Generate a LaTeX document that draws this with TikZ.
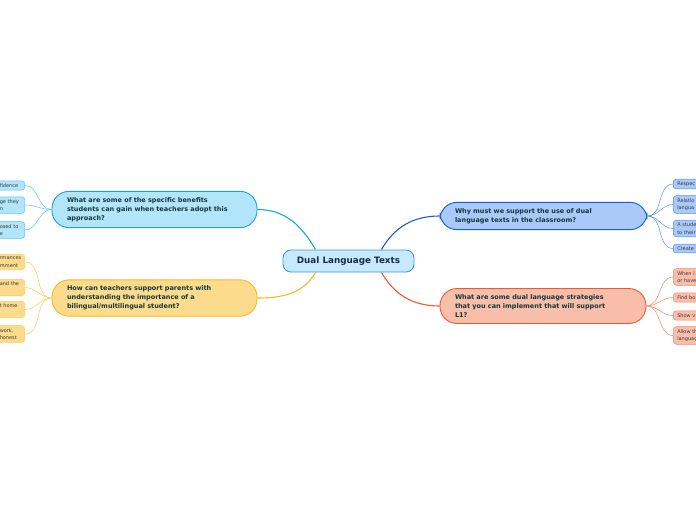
\documentclass[tikz,border=0pt]{standalone}
\usepackage{fontspec}
\setmainfont{DejaVu Sans}
\usetikzlibrary{calc}

\definecolor{rootfill}{HTML}{C8E9FB}
\definecolor{rootdraw}{HTML}{3C9AD8}
\definecolor{roottext}{HTML}{162B4D}
\definecolor{topictext}{HTML}{12393A}
\definecolor{leaftext}{HTML}{3A3A3A}
\definecolor{cyanfill}{HTML}{B2E4FA}
\definecolor{cyandraw}{HTML}{1DA1E2}
\definecolor{cyanleaf}{HTML}{5CC4F2}
\definecolor{yelfill}{HTML}{FDDB8D}
\definecolor{yeldraw}{HTML}{F8B91E}
\definecolor{yelleaf}{HTML}{FBCB55}
\definecolor{bluefill}{HTML}{A8C9FA}
\definecolor{bluedraw}{HTML}{1B5FD3}
\definecolor{blueleaf}{HTML}{5A8FE6}
\definecolor{redfill}{HTML}{F8BEA9}
\definecolor{reddraw}{HTML}{EF5A2A}
\definecolor{redleaf}{HTML}{F38A68}

\begin{document}
\begin{tikzpicture}[x=1pt, y=-1pt,
    root/.style={draw=rootdraw, fill=rootfill, line width=0.9pt, rounded corners=8pt,
        minimum width=131pt, minimum height=22pt, text=roottext,
        font=\fontsize{8.8}{10}\selectfont\bfseries},
    topic/.style={line width=0.9pt, rounded corners=17pt, inner xsep=15pt, inner ysep=6pt,
        align=left, text=topictext, font=\fontsize{6.5}{9}\selectfont\bfseries},
    leaf/.style={line width=0.5pt, rounded corners=3pt, inner xsep=4pt, inner ysep=2.6pt,
        align=left, text=leaftext, font=\fontsize{5}{7.5}\selectfont},
    leafleft/.style={leaf, anchor=east, text width=21pt},
    leafright/.style={leaf, anchor=west, text width=40pt},
    link/.style={line width=1.1pt},
    twig/.style={line width=0.5pt}]

    \pgfmathsetmacro{\xmax}{696}
    \pgfmathsetmacro{\ymax}{520}

    % 背景
    \fill[white] (0,0) rectangle (\xmax,\ymax);
    \useasboundingbox (0,0) rectangle (\xmax,\ymax);
    \clip (0,0) rectangle (\xmax,\ymax);

    % 中心
    \node[root] (root) at (348.5,261) {Dual Language Texts};

    % 四つの問い
    \node[topic, fill=cyanfill, draw=cyandraw, text width=175pt] (benefits) at (154.5,209.5)
        {What are some of the specific benefits\\students can gain when teachers adopt this\\approach?};
    \node[topic, fill=yelfill, draw=yeldraw, text width=175pt] (parents) at (154.5,298)
        {How can teachers support parents with\\understanding the importance of a\\bilingual/multilingual student?};
    \node[topic, fill=bluefill, draw=bluedraw, text width=177pt] (why) at (543.5,216)
        {Why must we support the use of dual\\language texts in the classroom?};
    \node[topic, fill=redfill, draw=reddraw, text width=176pt] (strategies) at (543,306)
        {What are some dual language strategies\\that you can implement that will support\\L1?};

    % 中心から問いへ
    \coordinate (rootL) at ($(root.north)!0.5!(root.north west)$);
    \coordinate (rootR) at ($(root.north)!0.5!(root.north east)$);
    \coordinate (rootLs) at ($(root.south)!0.5!(root.south west)$);
    \coordinate (rootRs) at ($(root.south)!0.5!(root.south east)$);
    \draw[link, cyandraw] (rootL) to[out=120, in=0] (benefits.east);
    \draw[link, yeldraw] (rootLs) to[out=240, in=0] (parents.east);
    \draw[link, bluedraw] (rootR) to[out=60, in=180] (why.west);
    \draw[link, reddraw] (rootRs) to[out=300, in=180] (strategies.west);

    % 左上の葉
    \foreach \y/\txt [count=\i] in {185.5/fidence, 205/{ge they\\n}, 230/{osed to\\e}} {
        \node[leafleft, fill=cyanfill, draw=cyanleaf] (b\i) at (25,\y) {\txt};
        \draw[twig, cyanleaf] (benefits.west) to[out=180, in=0] (b\i.east);
    }

    % 左下の葉
    \foreach \y/\txt [count=\i] in {262/{rmances\\rnment}, 287.5/{and the\\~}, 309.5/{t home\\~}, 334/{work,\\honest}} {
        \node[leafleft, fill=yelfill, draw=yelleaf] (p\i) at (25,\y) {\txt};
        \draw[twig, yelleaf] (parents.west) to[out=180, in=0] (p\i.east);
    }

    % 右上の葉
    \foreach \y/\txt [count=\i] in {184/Respec, 204.5/{Relatio\\langua}, 228.5/{A stude\\to their}, 248.5/Create} {
        \node[leafright, fill=bluefill, draw=blueleaf] (w\i) at (673,\y) {\txt};
        \draw[twig, blueleaf] (why.east) to[out=0, in=180] (w\i.west);
    }

    % 右下の葉
    \foreach \y/\txt [count=\i] in {277/{When i\\or have}, 297.5/Find bo, 315.5/Show v, 335.5/{Allow th\\languag}} {
        \node[leafright, fill=redfill, draw=redleaf] (s\i) at (673,\y) {\txt};
        \draw[twig, redleaf] (strategies.east) to[out=0, in=180] (s\i.west);
    }

\end{tikzpicture}
\end{document}
